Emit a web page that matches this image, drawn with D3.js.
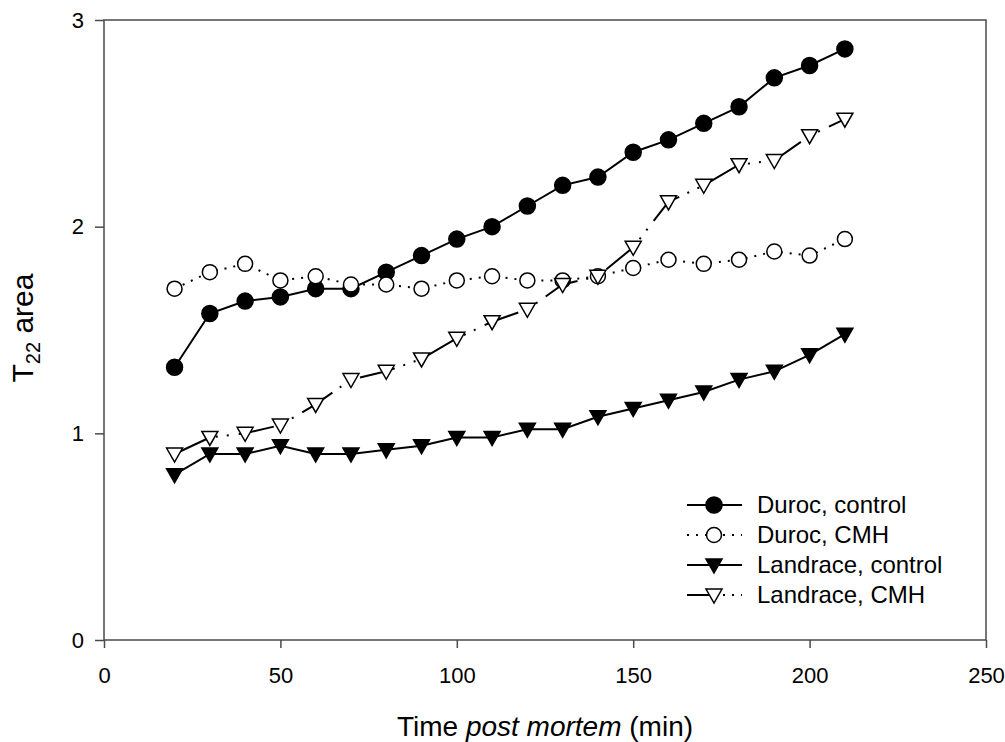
<!DOCTYPE html>
<html>
<head>
<meta charset="utf-8">
<script src="https://cdn.jsdelivr.net/npm/d3@7"></script>
<style>
  body { margin: 0; background: #fff; }
  svg { font-family: "Liberation Sans", Arial, sans-serif; }
</style>
</head>
<body>
<svg id="chart" width="1005" height="742"></svg>
<script>
// values
const timeMin = [20, 30, 40, 50, 60, 70, 80, 90, 100, 110, 120, 130, 140, 150, 160, 170, 180, 190, 200, 210];
const durocControl = [1.32, 1.58, 1.64, 1.66, 1.70, 1.70, 1.78, 1.86, 1.94, 2.00, 2.10, 2.20, 2.24, 2.36, 2.42, 2.50, 2.58, 2.72, 2.78, 2.86];
const durocCMH = [1.70, 1.78, 1.82, 1.74, 1.76, 1.72, 1.72, 1.70, 1.74, 1.76, 1.74, 1.74, 1.76, 1.80, 1.84, 1.82, 1.84, 1.88, 1.86, 1.94];
const landraceControl = [0.80, 0.90, 0.90, 0.94, 0.90, 0.90, 0.92, 0.94, 0.98, 0.98, 1.02, 1.02, 1.08, 1.12, 1.16, 1.20, 1.26, 1.30, 1.38, 1.48];
const landraceCMH = [0.90, 0.98, 1.00, 1.04, 1.14, 1.26, 1.30, 1.36, 1.46, 1.54, 1.60, 1.72, 1.76, 1.90, 2.12, 2.20, 2.30, 2.32, 2.44, 2.52];
const seriesNames = ["Duroc, control", "Duroc, CMH", "Landrace, control", "Landrace, CMH"];
const xTicks = [0, 50, 100, 150, 200, 250];
const yTicks = [0, 1, 2, 3];

const svg = d3.select('#chart');
const plotL = 104, plotR = 986, plotT = 20, plotB = 640;

const xScale = d3.scaleLinear().domain([0, 250]).range([plotL, plotR]);
const yScale = d3.scaleLinear().domain([0, 3]).range([plotB, plotT]);

const axisColor = '#4a4a4a';

// frame
svg.append('rect')
    .attr('x', plotL).attr('y', plotT)
    .attr('width', plotR - plotL).attr('height', plotB - plotT)
    .style('fill', 'none').style('stroke', axisColor).style('stroke-width', 1.5);

const gx = svg.append('g')
    .attr('transform', `translate(0,${plotB})`)
    .call(d3.axisBottom(xScale).tickValues(xTicks).tickFormat(d3.format('d')).tickSize(8).tickPadding(19));
const gy = svg.append('g')
    .attr('transform', `translate(${plotL},0)`)
    .call(d3.axisLeft(yScale).tickValues(yTicks).tickFormat(d3.format('d')).tickSize(9).tickPadding(11));

[gx, gy].forEach(g => {
    g.select('.domain').remove();
    g.selectAll('line').style('stroke', axisColor).style('stroke-width', 1.5);
    g.selectAll('text')
        .style('font-family', '"Liberation Sans", Arial, sans-serif')
        .style('font-size', '22px').style('fill', '#000');
});

// series styles
const triangle = 'M-8,-6L8,-6L0,8Z';
const styles = [
    { values: durocControl, dash: null, shape: 'circle', fill: '#000', r: 8 },
    { values: durocCMH, dash: '2,7', shape: 'circle', fill: '#fff', r: 7.5 },
    { values: landraceControl, dash: null, shape: 'tri', fill: '#000' },
    { values: landraceCMH, dash: '36,9,2,9,2,10', shape: 'tri', fill: '#fff' }
];

function drawMarker(g, s, x, y) {
    if (s.shape === 'circle') {
        g.append('circle')
            .attr('cx', x).attr('cy', y).attr('r', s.r)
            .style('fill', s.fill).style('stroke', '#000').style('stroke-width', 1.5);
    } else {
        g.append('path')
            .attr('d', triangle)
            .attr('transform', `translate(${x},${y})`)
            .style('fill', s.fill).style('stroke', '#000').style('stroke-width', 1.5)
            .style('stroke-linejoin', 'miter');
    }
}

const line = d3.line()
    .x(d => xScale(d[0]))
    .y(d => yScale(d[1]));

styles.forEach(s => {
    const pts = timeMin.map((t, i) => [t, s.values[i]]);
    const g = svg.append('g');
    g.append('path')
        .datum(pts)
        .attr('d', line)
        .style('fill', 'none')
        .style('stroke', '#000')
        .style('stroke-width', 2)
        .style('stroke-dasharray', s.dash);
    pts.forEach(p => drawMarker(g, s, xScale(p[0]), yScale(p[1])));
});

// legend
const legend = svg.append('g');
styles.forEach((s, i) => {
    const yy = 505 + i * 30;
    legend.append('line')
        .attr('x1', 687).attr('x2', 742).attr('y1', yy).attr('y2', yy)
        .style('stroke', '#000').style('stroke-width', 2)
        .style('stroke-dasharray', s.dash === null ? null : (i === 3 ? '22,14,2,7,2,7' : '2,7'));
    drawMarker(legend, s, 714, yy);
    legend.append('text')
        .attr('x', 757).attr('y', yy + 8)
        .style('font-size', '24px')
        .text(seriesNames[i]);
});

// axis titles
const xt = svg.append('text')
    .attr('x', (plotL + plotR) / 2).attr('y', 736)
    .style('text-anchor', 'middle')
    .style('font-size', '28px');
xt.append('tspan').text('Time ');
xt.append('tspan').style('font-style', 'italic').text('post mortem');
xt.append('tspan').text(' (min)');

const yt = svg.append('text')
    .attr('transform', `translate(33,${(plotT + plotB) / 2 - 2}) rotate(-90)`)
    .style('text-anchor', 'middle')
    .style('font-size', '30px');
yt.append('tspan').text('T');
yt.append('tspan').attr('dy', 7).style('font-size', '20px').text('22');
yt.append('tspan').attr('dy', -7).text(' area');
</script>
</body>
</html>
